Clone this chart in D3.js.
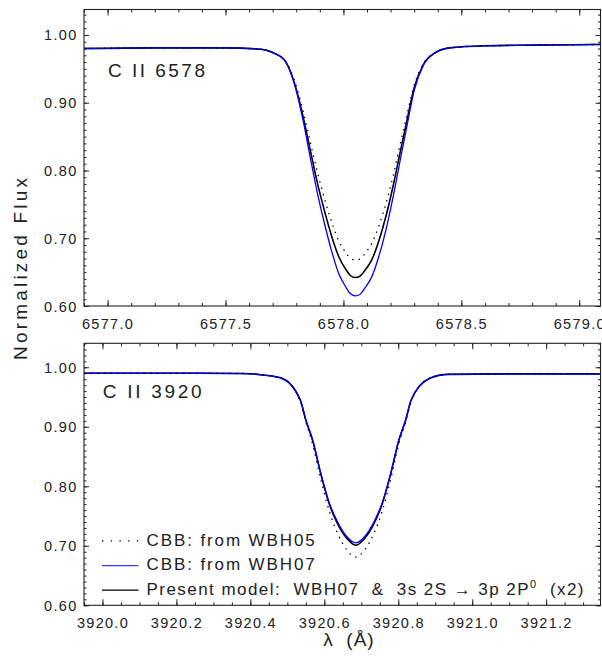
<!DOCTYPE html>
<html>
<head>
<meta charset="utf-8">
<script src="https://cdn.jsdelivr.net/npm/d3@7"></script>
<style>
  body { margin: 0; background: #fff; }
  svg { display: block; font-family: "Liberation Sans", Arial, sans-serif; }
  text { fill: #222; white-space: pre; }
</style>
</head>
<body>
<svg id="chart" width="602" height="657"></svg>
<script>
// C II 6578 line profile (wavelength in Angstrom, normalized flux)
var topWave = [6576.90, 6577.20, 6577.50, 6577.65, 6577.70, 6577.75, 6577.80, 6577.83, 6577.86, 6577.89,
  6577.92, 6577.95, 6577.98, 6578.01, 6578.03, 6578.05, 6578.07, 6578.09, 6578.12, 6578.15,
  6578.18, 6578.21, 6578.24, 6578.27, 6578.30, 6578.34, 6578.39, 6578.45, 6578.60, 6578.80, 6579.09];
var topPresent = [0.980, 0.981, 0.981, 0.979, 0.974, 0.963, 0.920, 0.878, 0.829, 0.781,
  0.740, 0.703, 0.673, 0.654, 0.645, 0.642, 0.644, 0.652, 0.668, 0.696,
  0.732, 0.776, 0.826, 0.875, 0.922, 0.957, 0.974, 0.981, 0.984, 0.985, 0.986];
var topWBH07 = [0.980, 0.981, 0.981, 0.979, 0.974, 0.963, 0.918, 0.872, 0.818, 0.766,
  0.721, 0.681, 0.648, 0.628, 0.618, 0.615, 0.617, 0.626, 0.643, 0.673,
  0.712, 0.760, 0.814, 0.867, 0.918, 0.956, 0.974, 0.981, 0.984, 0.985, 0.986];
var topWBH05 = [0.980, 0.981, 0.981, 0.979, 0.974, 0.963, 0.925, 0.886, 0.841, 0.797,
  0.758, 0.724, 0.696, 0.679, 0.670, 0.668, 0.669, 0.677, 0.692, 0.718,
  0.751, 0.791, 0.838, 0.883, 0.926, 0.958, 0.974, 0.981, 0.984, 0.985, 0.986];

// C II 3920 line profile
var botWave = [3919.95, 3920.20, 3920.385, 3920.435, 3920.485, 3920.535, 3920.550, 3920.568, 3920.590, 3920.613,
  3920.635, 3920.660, 3920.685, 3920.710, 3920.735, 3920.757, 3920.780, 3920.802, 3920.820, 3920.835,
  3920.885, 3920.935, 3921.10, 3921.35];
var botPresent = [0.990, 0.990, 0.9895, 0.987, 0.9815, 0.945, 0.911, 0.878, 0.822, 0.771,
  0.738, 0.713, 0.701, 0.713, 0.738, 0.771, 0.822, 0.878, 0.911, 0.945,
  0.9815, 0.988, 0.989, 0.989];
var botWBH07 = [0.990, 0.990, 0.9895, 0.987, 0.9815, 0.945, 0.912, 0.879, 0.823, 0.773,
  0.741, 0.716, 0.705, 0.716, 0.741, 0.773, 0.823, 0.879, 0.912, 0.945,
  0.9815, 0.988, 0.989, 0.989];
var botWBH05 = [0.990, 0.990, 0.9895, 0.987, 0.9815, 0.943, 0.908, 0.872, 0.813, 0.759,
  0.722, 0.694, 0.681, 0.694, 0.722, 0.759, 0.813, 0.872, 0.908, 0.943,
  0.9815, 0.988, 0.989, 0.989];

// Tick labels
var yTicks = [0.60, 0.70, 0.80, 0.90, 1.00];
var topXTicks = [6577.0, 6577.5, 6578.0, 6578.5, 6579.0];
var botXTicks = [3920.0, 3920.2, 3920.4, 3920.6, 3920.8, 3921.0, 3921.2];

var legendLabels = ["CBB: from WBH05", "CBB: from WBH07", "Present model:  WBH07  &  3s 2S \u2192 3p 2P"];

var svg = d3.select("#chart");
var left = 84, right = 600.5;

// range of integer multiples of a step inside a domain
function stepTicks(d, step) {
  var k0 = Math.ceil(d[0] / step - 1e-6), k1 = Math.floor(d[1] / step + 1e-6);
  return d3.range(k0, k1 + 1).map(function (k) { return +(k * step).toFixed(4); });
}

function drawPanel(p) {
  var x = d3.scaleLinear().domain(p.xDomain).range([left, right]);
  var y = d3.scaleLinear().domain(p.yDomain).range([p.bottom, p.top]);
  var g = svg.append("g");

  var clipId = "clip" + p.id;
  svg.append("clipPath").attr("id", clipId)
    .append("rect").attr("x", left).attr("y", p.top)
    .attr("width", right - left).attr("height", p.bottom - p.top);

  var line = d3.line().curve(d3.curveMonotoneX)
    .x(function (d) { return x(d[0]); })
    .y(function (d) { return y(d[1]); });

  var curves = g.append("g").attr("clip-path", "url(#" + clipId + ")");
  curves.append("path").datum(d3.zip(p.wave, p.present))
    .attr("d", line).attr("fill", "none").attr("stroke", "#000").attr("stroke-width", 1.6);
  curves.append("path").datum(d3.zip(p.wave, p.wbh07))
    .attr("d", line).attr("fill", "none").attr("stroke", "#0000ff").attr("stroke-width", 1.3);
  curves.append("path").datum(d3.zip(p.wave, p.wbh05))
    .attr("d", line).attr("fill", "none").attr("stroke", "#000").attr("stroke-width", 1.3)
    .attr("stroke-dasharray", "1.4 5.2");

  var xMinor = stepTicks(p.xDomain, p.xMinorStep);
  var yMinor = stepTicks(p.yDomain, 0.01);

  function axis(gen, tr, ticks, size, labels) {
    var a = g.append("g").attr("transform", tr)
      .call(gen.tickValues(ticks).tickSize(size).tickSizeOuter(0)
        .tickFormat(labels ? labels : ""));
    a.select(".domain").remove();
    a.selectAll("line").attr("stroke", "#222");
    return a;
  }

  // bottom
  axis(d3.axisBottom(x), "translate(0," + p.bottom + ")", xMinor, -3);
  var bx = axis(d3.axisBottom(x), "translate(0," + p.bottom + ")", p.xTicks, -6, d3.format(".1f"));
  bx.selectAll("text").attr("y", 22.8).attr("dy", null)
    .style("font-size", "14.5px").style("letter-spacing", "1.3px")
    .style("font-family", "'Liberation Sans', Arial, sans-serif").attr("fill", "#222");
  // top
  axis(d3.axisTop(x), "translate(0," + p.top + ")", xMinor, -3);
  axis(d3.axisTop(x), "translate(0," + p.top + ")", p.xTicks, -6);
  // left
  axis(d3.axisLeft(y), "translate(" + left + ",0)", yMinor, -2.5);
  var ly = axis(d3.axisLeft(y), "translate(" + left + ",0)", yTicks, -5, d3.format(".2f"));
  ly.selectAll("text").attr("x", -6.5).attr("dy", null).attr("dominant-baseline", "auto")
    .attr("transform", "translate(0,5)")
    .style("font-size", "14.5px").style("letter-spacing", "1.3px")
    .style("font-family", "'Liberation Sans', Arial, sans-serif").attr("fill", "#222");
  // right
  axis(d3.axisRight(y), "translate(" + right + ",0)", yMinor, -2.5);
  axis(d3.axisRight(y), "translate(" + right + ",0)", yTicks, -5);

  // frame
  g.append("rect").attr("x", left).attr("y", p.top)
    .attr("width", right - left).attr("height", p.bottom - p.top)
    .attr("fill", "none").attr("stroke", "#222").attr("stroke-width", 1.1);

  g.append("text").attr("x", p.labelX).attr("y", p.labelY)
    .attr("textLength", p.labelLen).attr("lengthAdjust", "spacing")
    .style("font-size", "19px").text(p.label);
  return { x: x, y: y, g: g };
}

drawPanel({
  id: "top", wave: topWave, present: topPresent, wbh07: topWBH07, wbh05: topWBH05,
  xDomain: [6576.90, 6579.09], yDomain: [0.60, 1.0376], top: 9.5, bottom: 306,
  xTicks: topXTicks, xMinorStep: 0.1,
  label: "C II 6578", labelX: 108, labelY: 77, labelLen: 97
});

var bot = drawPanel({
  id: "bot", wave: botWave, present: botPresent, wbh07: botWBH07, wbh05: botWBH05,
  xDomain: [3919.95, 3921.347], yDomain: [0.60, 1.0403], top: 343.3, bottom: 605.3,
  xTicks: botXTicks, xMinorStep: 0.05,
  label: "C II 3920", labelX: 102.7, labelY: 398, labelLen: 99
});

// legend
var legStyles = [
  { stroke: "#000", dash: "1.4 7.3", width: 1.2 },
  { stroke: "#3b3bff", dash: null, width: 1.2 },
  { stroke: "#000", dash: null, width: 1.3 }
];
var legBase = [545.7, 570.4, 595];
var legSpacing = ["1.9px", "1.9px", "1.45px"];
legendLabels.forEach(function (lab, i) {
  bot.g.append("line").attr("x1", 102).attr("x2", 138.5)
    .attr("y1", legBase[i] - 4.8).attr("y2", legBase[i] - 4.8)
    .attr("stroke", legStyles[i].stroke).attr("stroke-width", legStyles[i].width)
    .attr("stroke-dasharray", legStyles[i].dash);
  var t = bot.g.append("text").attr("x", 146.5).attr("y", legBase[i])
    .style("font-size", "17px").style("letter-spacing", legSpacing[i]);
  t.append("tspan").text(lab);
  if (i === 2) {
    t.append("tspan").attr("dy", -7).style("font-size", "11px").text("0");
    t.append("tspan").attr("dy", 7).text("  (x2)");
  }
});

// axis titles
svg.append("text").attr("x", 349).attr("y", 646).attr("text-anchor", "middle")
  .style("font-size", "19px").style("letter-spacing", "1px").text("\u03bb  (\u00c5)");
svg.append("text").attr("transform", "translate(27,269) rotate(-90)")
  .attr("text-anchor", "middle").attr("textLength", 182).attr("lengthAdjust", "spacing")
  .style("font-size", "19px").text("Normalized Flux");
</script>
</body>
</html>
